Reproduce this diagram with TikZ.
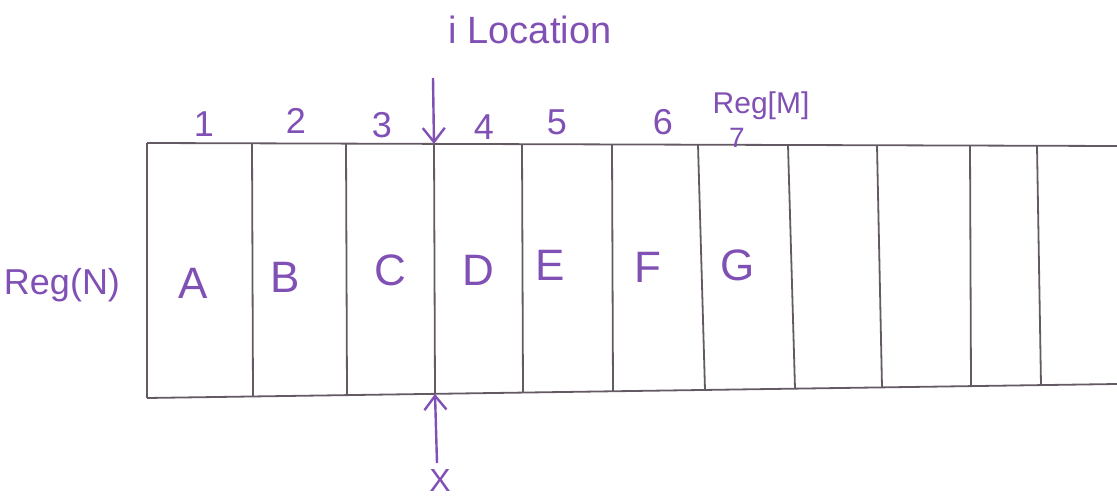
\documentclass[tikz,border=0pt]{standalone}
\usepackage{fontspec}
\setmainfont{Liberation Sans}
\usetikzlibrary{arrows.meta}
\definecolor{ink}{RGB}{128,80,180}
\definecolor{pencil}{RGB}{100,90,100}
\begin{document}
\begin{tikzpicture}[x=1pt,y=-1pt,
  rule/.style={draw=pencil,line width=1.8pt},
  cell/.style={text=ink,font=\fontsize{44}{44}\selectfont,inner sep=0pt},
  idx/.style={text=ink,font=\fontsize{36}{36}\selectfont,inner sep=0pt},
  note/.style={text=ink,font=\fontsize{36}{36}\selectfont,inner sep=0pt},
  pointer/.style={draw=ink,line width=2.4pt,-{Straight Barb[length=14pt,width=22pt,line width=2.4pt]}}]
\useasboundingbox (0,0) rectangle (1117,500);

% separator end points along the top and bottom rules
\foreach \n/\xt/\yt/\xb/\yb in {0/147/143/147/398, 1/252/143.3/253/396.5, 2/346/143.6/347/395.1,
   3/434/143.9/435/393.9, 4/522/144.2/523/392.6, 5/612/144.4/613/391.3, 6/698/144.7/705/390,
   7/788/145/795/388.6, 8/877/145.3/882/387.4, 9/970/145.5/971/386.1, 10/1037/145.8/1041/385.1}{
  \coordinate (t\n) at (\xt,\yt);
  \coordinate (b\n) at (\xb,\yb);
  \draw[rule] (t\n) -- (b\n);
}
\coordinate (tend) at (1117,146);
\coordinate (bend) at (1117,384);
\draw[rule] (t0) -- (tend);
\draw[rule] (b0) -- (bend);

% cell contents
\node[cell] (cA) at (193,283) {A};
\node[cell] (cB) at (285,277) {B};
\node[cell] (cC) at (390,270) {C};
\node[cell] (cD) at (478,270) {D};
\node[cell] (cE) at (550,265) {E};
\node[cell] (cF) at (648,267) {F};
\node[cell] (cG) at (738,265) {G};

% positions
\node[idx] (n1) at (204,124) {1};
\node[idx] (n2) at (296,121) {2};
\node[idx] (n3) at (382,125) {3};
\node[idx] (n4) at (484,127) {4};
\node[idx] (n5) at (557,122) {5};
\node[idx] (n6) at (663,122) {6};
\node[idx,font=\fontsize{28}{28}\selectfont] (n7) at (737,138) {7};

% labels
\node[note,font=\fontsize{30}{30}\selectfont] (regM) at (761,106) {Reg[M]};
\node[note] (regN) at (62,285) {Reg(N)};
\node[note,font=\fontsize{38}{38}\selectfont] (iloc) at (530,30) {i Location};
\node[note,font=\fontsize{32}{32}\selectfont] (xlbl) at (440,480) {X};

% pointers to the fourth boundary
\coordinate (ifoot) at (433,78);
\draw[pointer] (ifoot) -- (t3);
\coordinate (xhead) at (437,463);
\draw[pointer] (xhead) -- (b3);
\end{tikzpicture}
\end{document}
